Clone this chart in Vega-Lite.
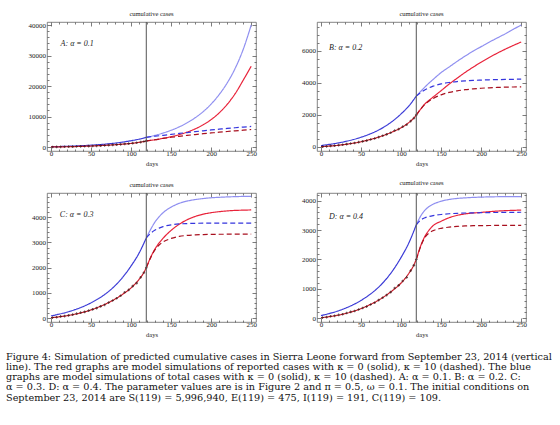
{
"$schema": "https://vega.github.io/schema/vega-lite/v6.json",
"padding": {"left": 6, "top": 10, "right": 0, "bottom": 0},
"config": {
 "view": {"stroke": "#666", "strokeWidth": 0.8},
 "font": "Liberation Serif",
 "axis": {"domain": false, "grid": false, "labelFont": "Liberation Serif", "labelFontSize": 7, "labelColor": "#222", "tickColor": "#444", "tickWidth": 0.7, "titleFont": "Liberation Serif", "titleFontSize": 6.5, "titleFontWeight": "normal", "titleColor": "#222", "labelFlush": false, "labelOverlap": false, "titlePadding": 2},
 "axisX": {"labelPadding": 2},
 "axisY": {"labelPadding": 5.5},
 "title": {"font": "Liberation Serif", "fontSize": 6.5, "fontWeight": "normal", "color": "#222", "offset": 4}
},
"title": {"text": ["Figure 4: Simulation of predicted cumulative cases in Sierra Leone forward from September 23, 2014 (vertical", "line). The red graphs are model simulations of reported cases with κ = 0 (solid), κ = 10 (dashed). The blue", "graphs are model simulations of total cases with κ = 0 (solid), κ = 10 (dashed). A: α = 0.1. B: α = 0.2. C:", "α = 0.3. D: α = 0.4. The parameter values are is in Figure 2 and π = 0.5, ω = 0.1. The initial conditions on", "September 23, 2014 are S(119) = 5,996,940, E(119) = 475, I(119) = 191, C(119) = 109."], "orient": "bottom", "anchor": "start", "frame": "group", "font": "DejaVu Serif", "fontSize": 9.7, "fontWeight": "normal", "lineHeight": 10.2, "offset": 14, "color": "#111", "dx": -41},
"datasets": {
 "obs": [{"day":2,"cases":25},{"day":7,"cases":40},{"day":12,"cases":70},{"day":17,"cases":85},{"day":22,"cases":115},{"day":27,"cases":140},{"day":32,"cases":180},{"day":37,"cases":220},{"day":42,"cases":250},{"day":47,"cases":300},{"day":52,"cases":350},{"day":57,"cases":400},{"day":62,"cases":470},{"day":67,"cases":530},{"day":72,"cases":620},{"day":77,"cases":700},{"day":82,"cases":790},{"day":87,"cases":890},{"day":92,"cases":1030},{"day":97,"cases":1120},{"day":102,"cases":1270},{"day":107,"cases":1390},{"day":112,"cases":1620},{"day":116,"cases":1800},{"day":119,"cases":2000}],
 "labels": [{"panel":"A","day":12,"cases":33800,"label":"A:  α = 0.1"},{"panel":"B","day":10,"cases":6200,"label":"B:  α = 0.2"},{"panel":"C","day":11,"cases":4100,"label":"C:  α = 0.3"},{"panel":"D","day":10,"cases":3430,"label":"D:  α = 0.4"}],
 "curves": [
{"panel":"all","series":"pre_blue","day":0,"cases":90},{"panel":"all","series":"pre_blue","day":10,"cases":160},{"panel":"all","series":"pre_blue","day":20,"cases":240},{"panel":"all","series":"pre_blue","day":30,"cases":340},{"panel":"all","series":"pre_blue","day":40,"cases":460},{"panel":"all","series":"pre_blue","day":50,"cases":610},{"panel":"all","series":"pre_blue","day":60,"cases":790},{"panel":"all","series":"pre_blue","day":70,"cases":1010},{"panel":"all","series":"pre_blue","day":80,"cases":1290},{"panel":"all","series":"pre_blue","day":90,"cases":1640},{"panel":"all","series":"pre_blue","day":100,"cases":2070},{"panel":"all","series":"pre_blue","day":110,"cases":2580},{"panel":"all","series":"pre_blue","day":119,"cases":3180},
{"panel":"all","series":"pre_red","day":0,"cases":20},{"panel":"all","series":"pre_red","day":10,"cases":55},{"panel":"all","series":"pre_red","day":20,"cases":100},{"panel":"all","series":"pre_red","day":30,"cases":160},{"panel":"all","series":"pre_red","day":40,"cases":235},{"panel":"all","series":"pre_red","day":50,"cases":330},{"panel":"all","series":"pre_red","day":60,"cases":450},{"panel":"all","series":"pre_red","day":70,"cases":590},{"panel":"all","series":"pre_red","day":80,"cases":760},{"panel":"all","series":"pre_red","day":90,"cases":960},{"panel":"all","series":"pre_red","day":100,"cases":1200},{"panel":"all","series":"pre_red","day":110,"cases":1540},{"panel":"all","series":"pre_red","day":115,"cases":1760},{"panel":"all","series":"pre_red","day":119,"cases":2000},
{"panel":"A","series":"blue_solid","day":119,"cases":3180},{"panel":"A","series":"blue_solid","day":130,"cases":3850},{"panel":"A","series":"blue_solid","day":140,"cases":4600},{"panel":"A","series":"blue_solid","day":150,"cases":5500},{"panel":"A","series":"blue_solid","day":160,"cases":6600},{"panel":"A","series":"blue_solid","day":170,"cases":7950},{"panel":"A","series":"blue_solid","day":180,"cases":9600},{"panel":"A","series":"blue_solid","day":190,"cases":11600},{"panel":"A","series":"blue_solid","day":200,"cases":14100},{"panel":"A","series":"blue_solid","day":210,"cases":17200},{"panel":"A","series":"blue_solid","day":220,"cases":21000},{"panel":"A","series":"blue_solid","day":230,"cases":25800},{"panel":"A","series":"blue_solid","day":240,"cases":32000},{"panel":"A","series":"blue_solid","day":250,"cases":40000},
{"panel":"A","series":"red_solid","day":119,"cases":2000},{"panel":"A","series":"red_solid","day":130,"cases":2400},{"panel":"A","series":"red_solid","day":140,"cases":2850},{"panel":"A","series":"red_solid","day":150,"cases":3400},{"panel":"A","series":"red_solid","day":160,"cases":4050},{"panel":"A","series":"red_solid","day":170,"cases":4900},{"panel":"A","series":"red_solid","day":180,"cases":5950},{"panel":"A","series":"red_solid","day":190,"cases":7300},{"panel":"A","series":"red_solid","day":200,"cases":9000},{"panel":"A","series":"red_solid","day":210,"cases":11200},{"panel":"A","series":"red_solid","day":220,"cases":14000},{"panel":"A","series":"red_solid","day":230,"cases":17500},{"panel":"A","series":"red_solid","day":240,"cases":21900},{"panel":"A","series":"red_solid","day":250,"cases":26500},
{"panel":"A","series":"blue_dashed","day":119,"cases":3180},{"panel":"A","series":"blue_dashed","day":130,"cases":3550},{"panel":"A","series":"blue_dashed","day":140,"cases":3850},{"panel":"A","series":"blue_dashed","day":150,"cases":4150},{"panel":"A","series":"blue_dashed","day":160,"cases":4450},{"panel":"A","series":"blue_dashed","day":170,"cases":4750},{"panel":"A","series":"blue_dashed","day":180,"cases":5050},{"panel":"A","series":"blue_dashed","day":190,"cases":5330},{"panel":"A","series":"blue_dashed","day":200,"cases":5600},{"panel":"A","series":"blue_dashed","day":210,"cases":5850},{"panel":"A","series":"blue_dashed","day":220,"cases":6100},{"panel":"A","series":"blue_dashed","day":230,"cases":6330},{"panel":"A","series":"blue_dashed","day":240,"cases":6540},{"panel":"A","series":"blue_dashed","day":250,"cases":6750},
{"panel":"A","series":"red_dashed","day":119,"cases":2000},{"panel":"A","series":"red_dashed","day":130,"cases":2400},{"panel":"A","series":"red_dashed","day":140,"cases":2850},{"panel":"A","series":"red_dashed","day":150,"cases":3200},{"panel":"A","series":"red_dashed","day":160,"cases":3520},{"panel":"A","series":"red_dashed","day":170,"cases":3820},{"panel":"A","series":"red_dashed","day":180,"cases":4100},{"panel":"A","series":"red_dashed","day":190,"cases":4370},{"panel":"A","series":"red_dashed","day":200,"cases":4620},{"panel":"A","series":"red_dashed","day":210,"cases":4860},{"panel":"A","series":"red_dashed","day":220,"cases":5090},{"panel":"A","series":"red_dashed","day":230,"cases":5310},{"panel":"A","series":"red_dashed","day":240,"cases":5520},{"panel":"A","series":"red_dashed","day":250,"cases":5750},
{"panel":"B","series":"blue_solid","day":119,"cases":3180},{"panel":"B","series":"blue_solid","day":125,"cases":3500},{"panel":"B","series":"blue_solid","day":130,"cases":3760},{"panel":"B","series":"blue_solid","day":135,"cases":4000},{"panel":"B","series":"blue_solid","day":140,"cases":4220},{"panel":"B","series":"blue_solid","day":150,"cases":4650},{"panel":"B","series":"blue_solid","day":160,"cases":5000},{"panel":"B","series":"blue_solid","day":170,"cases":5350},{"panel":"B","series":"blue_solid","day":180,"cases":5680},{"panel":"B","series":"blue_solid","day":190,"cases":5990},{"panel":"B","series":"blue_solid","day":200,"cases":6270},{"panel":"B","series":"blue_solid","day":210,"cases":6550},{"panel":"B","series":"blue_solid","day":220,"cases":6810},{"panel":"B","series":"blue_solid","day":230,"cases":7070},{"panel":"B","series":"blue_solid","day":240,"cases":7350},{"panel":"B","series":"blue_solid","day":250,"cases":7620},
{"panel":"B","series":"red_solid","day":119,"cases":2000},{"panel":"B","series":"red_solid","day":125,"cases":2400},{"panel":"B","series":"red_solid","day":130,"cases":2700},{"panel":"B","series":"red_solid","day":135,"cases":2920},{"panel":"B","series":"red_solid","day":140,"cases":3120},{"panel":"B","series":"red_solid","day":150,"cases":3520},{"panel":"B","series":"red_solid","day":160,"cases":3930},{"panel":"B","series":"red_solid","day":170,"cases":4300},{"panel":"B","series":"red_solid","day":180,"cases":4660},{"panel":"B","series":"red_solid","day":190,"cases":4990},{"panel":"B","series":"red_solid","day":200,"cases":5300},{"panel":"B","series":"red_solid","day":210,"cases":5590},{"panel":"B","series":"red_solid","day":220,"cases":5860},{"panel":"B","series":"red_solid","day":230,"cases":6110},{"panel":"B","series":"red_solid","day":240,"cases":6340},{"panel":"B","series":"red_solid","day":250,"cases":6560},
{"panel":"B","series":"blue_dashed","day":119,"cases":3180},{"panel":"B","series":"blue_dashed","day":125,"cases":3420},{"panel":"B","series":"blue_dashed","day":130,"cases":3580},{"panel":"B","series":"blue_dashed","day":135,"cases":3700},{"panel":"B","series":"blue_dashed","day":140,"cases":3800},{"panel":"B","series":"blue_dashed","day":150,"cases":3940},{"panel":"B","series":"blue_dashed","day":160,"cases":4030},{"panel":"B","series":"blue_dashed","day":170,"cases":4090},{"panel":"B","series":"blue_dashed","day":180,"cases":4130},{"panel":"B","series":"blue_dashed","day":190,"cases":4160},{"panel":"B","series":"blue_dashed","day":200,"cases":4180},{"panel":"B","series":"blue_dashed","day":210,"cases":4200},{"panel":"B","series":"blue_dashed","day":220,"cases":4210},{"panel":"B","series":"blue_dashed","day":230,"cases":4220},{"panel":"B","series":"blue_dashed","day":240,"cases":4230},{"panel":"B","series":"blue_dashed","day":250,"cases":4240},
{"panel":"B","series":"red_dashed","day":119,"cases":2000},{"panel":"B","series":"red_dashed","day":125,"cases":2400},{"panel":"B","series":"red_dashed","day":130,"cases":2680},{"panel":"B","series":"red_dashed","day":135,"cases":2880},{"panel":"B","series":"red_dashed","day":140,"cases":3030},{"panel":"B","series":"red_dashed","day":150,"cases":3260},{"panel":"B","series":"red_dashed","day":160,"cases":3410},{"panel":"B","series":"red_dashed","day":170,"cases":3510},{"panel":"B","series":"red_dashed","day":180,"cases":3580},{"panel":"B","series":"red_dashed","day":190,"cases":3630},{"panel":"B","series":"red_dashed","day":200,"cases":3670},{"panel":"B","series":"red_dashed","day":210,"cases":3700},{"panel":"B","series":"red_dashed","day":220,"cases":3720},{"panel":"B","series":"red_dashed","day":230,"cases":3740},{"panel":"B","series":"red_dashed","day":240,"cases":3750},{"panel":"B","series":"red_dashed","day":250,"cases":3760},
{"panel":"C","series":"blue_solid","day":119,"cases":3180},{"panel":"C","series":"blue_solid","day":125,"cases":3550},{"panel":"C","series":"blue_solid","day":130,"cases":3820},{"panel":"C","series":"blue_solid","day":135,"cases":4020},{"panel":"C","series":"blue_solid","day":140,"cases":4180},{"panel":"C","series":"blue_solid","day":150,"cases":4400},{"panel":"C","series":"blue_solid","day":160,"cases":4550},{"panel":"C","series":"blue_solid","day":170,"cases":4640},{"panel":"C","series":"blue_solid","day":180,"cases":4700},{"panel":"C","series":"blue_solid","day":190,"cases":4740},{"panel":"C","series":"blue_solid","day":200,"cases":4770},{"panel":"C","series":"blue_solid","day":210,"cases":4790},{"panel":"C","series":"blue_solid","day":220,"cases":4805},{"panel":"C","series":"blue_solid","day":230,"cases":4815},{"panel":"C","series":"blue_solid","day":240,"cases":4825},{"panel":"C","series":"blue_solid","day":250,"cases":4830},
{"panel":"C","series":"red_solid","day":119,"cases":2000},{"panel":"C","series":"red_solid","day":125,"cases":2450},{"panel":"C","series":"red_solid","day":130,"cases":2750},{"panel":"C","series":"red_solid","day":135,"cases":2980},{"panel":"C","series":"red_solid","day":140,"cases":3170},{"panel":"C","series":"red_solid","day":150,"cases":3480},{"panel":"C","series":"red_solid","day":160,"cases":3720},{"panel":"C","series":"red_solid","day":170,"cases":3900},{"panel":"C","series":"red_solid","day":180,"cases":4030},{"panel":"C","series":"red_solid","day":190,"cases":4120},{"panel":"C","series":"red_solid","day":200,"cases":4180},{"panel":"C","series":"red_solid","day":210,"cases":4220},{"panel":"C","series":"red_solid","day":220,"cases":4250},{"panel":"C","series":"red_solid","day":230,"cases":4270},{"panel":"C","series":"red_solid","day":240,"cases":4280},{"panel":"C","series":"red_solid","day":250,"cases":4290},
{"panel":"C","series":"blue_dashed","day":119,"cases":3180},{"panel":"C","series":"blue_dashed","day":125,"cases":3380},{"panel":"C","series":"blue_dashed","day":130,"cases":3490},{"panel":"C","series":"blue_dashed","day":135,"cases":3570},{"panel":"C","series":"blue_dashed","day":140,"cases":3630},{"panel":"C","series":"blue_dashed","day":150,"cases":3700},{"panel":"C","series":"blue_dashed","day":160,"cases":3735},{"panel":"C","series":"blue_dashed","day":170,"cases":3750},{"panel":"C","series":"blue_dashed","day":180,"cases":3760},{"panel":"C","series":"blue_dashed","day":190,"cases":3765},{"panel":"C","series":"blue_dashed","day":200,"cases":3768},{"panel":"C","series":"blue_dashed","day":210,"cases":3770},{"panel":"C","series":"blue_dashed","day":220,"cases":3770},{"panel":"C","series":"blue_dashed","day":230,"cases":3770},{"panel":"C","series":"blue_dashed","day":240,"cases":3770},{"panel":"C","series":"blue_dashed","day":250,"cases":3770},
{"panel":"C","series":"red_dashed","day":119,"cases":2000},{"panel":"C","series":"red_dashed","day":125,"cases":2440},{"panel":"C","series":"red_dashed","day":130,"cases":2720},{"panel":"C","series":"red_dashed","day":135,"cases":2900},{"panel":"C","series":"red_dashed","day":140,"cases":3020},{"panel":"C","series":"red_dashed","day":150,"cases":3160},{"panel":"C","series":"red_dashed","day":160,"cases":3240},{"panel":"C","series":"red_dashed","day":170,"cases":3280},{"panel":"C","series":"red_dashed","day":180,"cases":3300},{"panel":"C","series":"red_dashed","day":190,"cases":3315},{"panel":"C","series":"red_dashed","day":200,"cases":3320},{"panel":"C","series":"red_dashed","day":210,"cases":3325},{"panel":"C","series":"red_dashed","day":220,"cases":3328},{"panel":"C","series":"red_dashed","day":230,"cases":3330},{"panel":"C","series":"red_dashed","day":240,"cases":3330},{"panel":"C","series":"red_dashed","day":250,"cases":3330},
{"panel":"D","series":"blue_solid","day":119,"cases":3180},{"panel":"D","series":"blue_solid","day":125,"cases":3500},{"panel":"D","series":"blue_solid","day":130,"cases":3680},{"panel":"D","series":"blue_solid","day":135,"cases":3800},{"panel":"D","series":"blue_solid","day":140,"cases":3880},{"panel":"D","series":"blue_solid","day":150,"cases":3980},{"panel":"D","series":"blue_solid","day":160,"cases":4040},{"panel":"D","series":"blue_solid","day":170,"cases":4075},{"panel":"D","series":"blue_solid","day":180,"cases":4095},{"panel":"D","series":"blue_solid","day":190,"cases":4110},{"panel":"D","series":"blue_solid","day":200,"cases":4120},{"panel":"D","series":"blue_solid","day":210,"cases":4128},{"panel":"D","series":"blue_solid","day":220,"cases":4133},{"panel":"D","series":"blue_solid","day":230,"cases":4137},{"panel":"D","series":"blue_solid","day":240,"cases":4139},{"panel":"D","series":"blue_solid","day":250,"cases":4140},
{"panel":"D","series":"red_solid","day":119,"cases":2000},{"panel":"D","series":"red_solid","day":125,"cases":2500},{"panel":"D","series":"red_solid","day":130,"cases":2800},{"panel":"D","series":"red_solid","day":135,"cases":3000},{"panel":"D","series":"red_solid","day":140,"cases":3150},{"panel":"D","series":"red_solid","day":150,"cases":3300},{"panel":"D","series":"red_solid","day":160,"cases":3420},{"panel":"D","series":"red_solid","day":170,"cases":3500},{"panel":"D","series":"red_solid","day":180,"cases":3550},{"panel":"D","series":"red_solid","day":190,"cases":3580},{"panel":"D","series":"red_solid","day":200,"cases":3600},{"panel":"D","series":"red_solid","day":210,"cases":3625},{"panel":"D","series":"red_solid","day":220,"cases":3645},{"panel":"D","series":"red_solid","day":230,"cases":3660},{"panel":"D","series":"red_solid","day":240,"cases":3670},{"panel":"D","series":"red_solid","day":250,"cases":3680},
{"panel":"D","series":"blue_dashed","day":119,"cases":3180},{"panel":"D","series":"blue_dashed","day":125,"cases":3350},{"panel":"D","series":"blue_dashed","day":130,"cases":3420},{"panel":"D","series":"blue_dashed","day":135,"cases":3460},{"panel":"D","series":"blue_dashed","day":140,"cases":3490},{"panel":"D","series":"blue_dashed","day":150,"cases":3530},{"panel":"D","series":"blue_dashed","day":160,"cases":3555},{"panel":"D","series":"blue_dashed","day":170,"cases":3570},{"panel":"D","series":"blue_dashed","day":180,"cases":3580},{"panel":"D","series":"blue_dashed","day":190,"cases":3585},{"panel":"D","series":"blue_dashed","day":200,"cases":3590},{"panel":"D","series":"blue_dashed","day":210,"cases":3595},{"panel":"D","series":"blue_dashed","day":220,"cases":3598},{"panel":"D","series":"blue_dashed","day":230,"cases":3600},{"panel":"D","series":"blue_dashed","day":240,"cases":3603},{"panel":"D","series":"blue_dashed","day":250,"cases":3605},
{"panel":"D","series":"red_dashed","day":119,"cases":2000},{"panel":"D","series":"red_dashed","day":125,"cases":2480},{"panel":"D","series":"red_dashed","day":130,"cases":2760},{"panel":"D","series":"red_dashed","day":135,"cases":2900},{"panel":"D","series":"red_dashed","day":140,"cases":2980},{"panel":"D","series":"red_dashed","day":150,"cases":3060},{"panel":"D","series":"red_dashed","day":160,"cases":3100},{"panel":"D","series":"red_dashed","day":170,"cases":3125},{"panel":"D","series":"red_dashed","day":180,"cases":3140},{"panel":"D","series":"red_dashed","day":190,"cases":3148},{"panel":"D","series":"red_dashed","day":200,"cases":3152},{"panel":"D","series":"red_dashed","day":210,"cases":3155},{"panel":"D","series":"red_dashed","day":220,"cases":3157},{"panel":"D","series":"red_dashed","day":230,"cases":3158},{"panel":"D","series":"red_dashed","day":240,"cases":3159},{"panel":"D","series":"red_dashed","day":250,"cases":3160}
 ]
},
"columns": 2,
"spacing": {"row": 12, "column": 44},
"concat": [
 {"width": 209, "height": 129, "title": "cumulative cases",
  "resolve": {"axis": {"x": "independent", "y": "independent"}},
  "layer": [
   {"data": {"name": "curves"}, "transform": [{"filter": "datum.panel === 'A' || datum.panel === 'all'"}],
    "mark": {"type": "line", "interpolate": "monotone", "strokeWidth": 1.2},
    "encoding": {
     "x": {"field": "day", "type": "quantitative", "scale": {"domain": [-5, 256], "nice": false, "zero": false}, "axis": {"orient": "bottom", "title": "days", "values": [0,10,20,30,40,50,60,70,80,90,100,110,120,130,140,150,160,170,180,190,200,210,220,230,240,250], "labelExpr": "datum.value % 50 === 0 ? datum.label : ''", "tickSize": {"condition": {"test": "datum.value % 50 === 0", "value": -4}, "value": -2}}},
     "y": {"field": "cases", "type": "quantitative", "scale": {"domain": [-1300, 41000], "nice": false, "zero": false}, "axis": {"orient": "left", "title": null, "format": "d", "values": [0,2000,4000,6000,8000,10000,12000,14000,16000,18000,20000,22000,24000,26000,28000,30000,32000,34000,36000,38000,40000], "labelExpr": "datum.value % 10000 === 0 ? datum.label : ''", "tickSize": {"condition": {"test": "datum.value % 10000 === 0", "value": -4}, "value": -2}}},
     "color": {"field": "series", "type": "nominal", "scale": {"domain": ["pre_blue","pre_red","blue_solid","red_solid","blue_dashed","red_dashed"], "range": ["#3b3bd6","#cc1f2e","#8f8ff0","#e8233a","#3535dd","#a8101f"]}, "legend": null},
     "strokeDash": {"field": "series", "type": "nominal", "scale": {"domain": ["pre_blue","pre_red","blue_solid","red_solid","blue_dashed","red_dashed"], "range": [[1,0],[1,0],[1,0],[1,0],[5,3],[5,3]]}, "legend": null}
    }},
   {"data": {"name": "obs"}, "mark": {"type": "point", "shape": "cross", "filled": true, "size": 7, "color": "#301010"},
    "encoding": {
     "x": {"field": "day", "type": "quantitative", "axis": {"orient": "top", "labels": false, "title": null, "values": [0,10,20,30,40,50,60,70,80,90,100,110,120,130,140,150,160,170,180,190,200,210,220,230,240,250], "tickSize": {"condition": {"test": "datum.value % 50 === 0", "value": -4}, "value": -2}}},
     "y": {"field": "cases", "type": "quantitative", "axis": {"orient": "right", "labels": false, "title": null, "values": [0,2000,4000,6000,8000,10000,12000,14000,16000,18000,20000,22000,24000,26000,28000,30000,32000,34000,36000,38000,40000], "tickSize": {"condition": {"test": "datum.value % 10000 === 0", "value": -4}, "value": -2}}}
    }},
   {"data": {"values": [{"day": 119}]}, "mark": {"type": "rule", "color": "#555", "strokeWidth": 1}, "encoding": {"x": {"field": "day", "type": "quantitative", "axis": null}}},
   {"data": {"name": "labels"}, "transform": [{"filter": "datum.panel === 'A'"}], "mark": {"type": "text", "align": "left", "baseline": "middle", "font": "Liberation Serif", "fontStyle": "italic", "fontSize": 8, "color": "#222"},
    "encoding": {"x": {"field": "day", "type": "quantitative", "axis": null}, "y": {"field": "cases", "type": "quantitative", "axis": null}, "text": {"field": "label"}}}
  ]},
 {"width": 209, "height": 129, "title": "cumulative cases",
  "resolve": {"axis": {"x": "independent", "y": "independent"}},
  "layer": [
   {"data": {"name": "curves"}, "transform": [{"filter": "datum.panel === 'B' || datum.panel === 'all'"}],
    "mark": {"type": "line", "interpolate": "monotone", "strokeWidth": 1.2},
    "encoding": {
     "x": {"field": "day", "type": "quantitative", "scale": {"domain": [-5, 256], "nice": false, "zero": false}, "axis": {"orient": "bottom", "title": "days", "values": [0,10,20,30,40,50,60,70,80,90,100,110,120,130,140,150,160,170,180,190,200,210,220,230,240,250], "labelExpr": "datum.value % 50 === 0 ? datum.label : ''", "tickSize": {"condition": {"test": "datum.value % 50 === 0", "value": -4}, "value": -2}}},
     "y": {"field": "cases", "type": "quantitative", "scale": {"domain": [-250, 7810], "nice": false, "zero": false}, "axis": {"orient": "left", "title": null, "format": "d", "values": [0,500,1000,1500,2000,2500,3000,3500,4000,4500,5000,5500,6000,6500,7000,7500], "labelExpr": "datum.value % 2000 === 0 ? datum.label : ''", "tickSize": {"condition": {"test": "datum.value % 2000 === 0", "value": -4}, "value": -2}}},
     "color": {"field": "series", "type": "nominal", "scale": {"domain": ["pre_blue","pre_red","blue_solid","red_solid","blue_dashed","red_dashed"], "range": ["#3b3bd6","#cc1f2e","#8f8ff0","#e8233a","#3535dd","#a8101f"]}, "legend": null},
     "strokeDash": {"field": "series", "type": "nominal", "scale": {"domain": ["pre_blue","pre_red","blue_solid","red_solid","blue_dashed","red_dashed"], "range": [[1,0],[1,0],[1,0],[1,0],[5,3],[5,3]]}, "legend": null}
    }},
   {"data": {"name": "obs"}, "mark": {"type": "point", "shape": "cross", "filled": true, "size": 7, "color": "#301010"},
    "encoding": {
     "x": {"field": "day", "type": "quantitative", "axis": {"orient": "top", "labels": false, "title": null, "values": [0,10,20,30,40,50,60,70,80,90,100,110,120,130,140,150,160,170,180,190,200,210,220,230,240,250], "tickSize": {"condition": {"test": "datum.value % 50 === 0", "value": -4}, "value": -2}}},
     "y": {"field": "cases", "type": "quantitative", "axis": {"orient": "right", "labels": false, "title": null, "values": [0,500,1000,1500,2000,2500,3000,3500,4000,4500,5000,5500,6000,6500,7000,7500], "tickSize": {"condition": {"test": "datum.value % 2000 === 0", "value": -4}, "value": -2}}}
    }},
   {"data": {"values": [{"day": 119}]}, "mark": {"type": "rule", "color": "#555", "strokeWidth": 1}, "encoding": {"x": {"field": "day", "type": "quantitative", "axis": null}}},
   {"data": {"name": "labels"}, "transform": [{"filter": "datum.panel === 'B'"}], "mark": {"type": "text", "align": "left", "baseline": "middle", "font": "Liberation Serif", "fontStyle": "italic", "fontSize": 8, "color": "#222"},
    "encoding": {"x": {"field": "day", "type": "quantitative", "axis": null}, "y": {"field": "cases", "type": "quantitative", "axis": null}, "text": {"field": "label"}}}
  ]},
 {"width": 209, "height": 129, "title": "cumulative cases",
  "resolve": {"axis": {"x": "independent", "y": "independent"}},
  "layer": [
   {"data": {"name": "curves"}, "transform": [{"filter": "datum.panel === 'C' || datum.panel === 'all'"}],
    "mark": {"type": "line", "interpolate": "monotone", "strokeWidth": 1.2},
    "encoding": {
     "x": {"field": "day", "type": "quantitative", "scale": {"domain": [-5, 256], "nice": false, "zero": false}, "axis": {"orient": "bottom", "title": "days", "values": [0,10,20,30,40,50,60,70,80,90,100,110,120,130,140,150,160,170,180,190,200,210,220,230,240,250], "labelExpr": "datum.value % 50 === 0 ? datum.label : ''", "tickSize": {"condition": {"test": "datum.value % 50 === 0", "value": -4}, "value": -2}}},
     "y": {"field": "cases", "type": "quantitative", "scale": {"domain": [-150, 4960], "nice": false, "zero": false}, "axis": {"orient": "left", "title": null, "format": "d", "values": [0,200,400,600,800,1000,1200,1400,1600,1800,2000,2200,2400,2600,2800,3000,3200,3400,3600,3800,4000,4200,4400,4600,4800], "labelExpr": "datum.value % 1000 === 0 ? datum.label : ''", "tickSize": {"condition": {"test": "datum.value % 1000 === 0", "value": -4}, "value": -2}}},
     "color": {"field": "series", "type": "nominal", "scale": {"domain": ["pre_blue","pre_red","blue_solid","red_solid","blue_dashed","red_dashed"], "range": ["#3b3bd6","#cc1f2e","#8f8ff0","#e8233a","#3535dd","#a8101f"]}, "legend": null},
     "strokeDash": {"field": "series", "type": "nominal", "scale": {"domain": ["pre_blue","pre_red","blue_solid","red_solid","blue_dashed","red_dashed"], "range": [[1,0],[1,0],[1,0],[1,0],[5,3],[5,3]]}, "legend": null}
    }},
   {"data": {"name": "obs"}, "mark": {"type": "point", "shape": "cross", "filled": true, "size": 7, "color": "#301010"},
    "encoding": {
     "x": {"field": "day", "type": "quantitative", "axis": {"orient": "top", "labels": false, "title": null, "values": [0,10,20,30,40,50,60,70,80,90,100,110,120,130,140,150,160,170,180,190,200,210,220,230,240,250], "tickSize": {"condition": {"test": "datum.value % 50 === 0", "value": -4}, "value": -2}}},
     "y": {"field": "cases", "type": "quantitative", "axis": {"orient": "right", "labels": false, "title": null, "values": [0,200,400,600,800,1000,1200,1400,1600,1800,2000,2200,2400,2600,2800,3000,3200,3400,3600,3800,4000,4200,4400,4600,4800], "tickSize": {"condition": {"test": "datum.value % 1000 === 0", "value": -4}, "value": -2}}}
    }},
   {"data": {"values": [{"day": 119}]}, "mark": {"type": "rule", "color": "#555", "strokeWidth": 1}, "encoding": {"x": {"field": "day", "type": "quantitative", "axis": null}}},
   {"data": {"name": "labels"}, "transform": [{"filter": "datum.panel === 'C'"}], "mark": {"type": "text", "align": "left", "baseline": "middle", "font": "Liberation Serif", "fontStyle": "italic", "fontSize": 8, "color": "#222"},
    "encoding": {"x": {"field": "day", "type": "quantitative", "axis": null}, "y": {"field": "cases", "type": "quantitative", "axis": null}, "text": {"field": "label"}}}
  ]},
 {"width": 209, "height": 129, "title": "cumulative cases",
  "resolve": {"axis": {"x": "independent", "y": "independent"}},
  "layer": [
   {"data": {"name": "curves"}, "transform": [{"filter": "datum.panel === 'D' || datum.panel === 'all'"}],
    "mark": {"type": "line", "interpolate": "monotone", "strokeWidth": 1.2},
    "encoding": {
     "x": {"field": "day", "type": "quantitative", "scale": {"domain": [-5, 256], "nice": false, "zero": false}, "axis": {"orient": "bottom", "title": "days", "values": [0,10,20,30,40,50,60,70,80,90,100,110,120,130,140,150,160,170,180,190,200,210,220,230,240,250], "labelExpr": "datum.value % 50 === 0 ? datum.label : ''", "tickSize": {"condition": {"test": "datum.value % 50 === 0", "value": -4}, "value": -2}}},
     "y": {"field": "cases", "type": "quantitative", "scale": {"domain": [-125, 4260], "nice": false, "zero": false}, "axis": {"orient": "left", "title": null, "format": "d", "values": [0,200,400,600,800,1000,1200,1400,1600,1800,2000,2200,2400,2600,2800,3000,3200,3400,3600,3800,4000,4200], "labelExpr": "datum.value % 1000 === 0 ? datum.label : ''", "tickSize": {"condition": {"test": "datum.value % 1000 === 0", "value": -4}, "value": -2}}},
     "color": {"field": "series", "type": "nominal", "scale": {"domain": ["pre_blue","pre_red","blue_solid","red_solid","blue_dashed","red_dashed"], "range": ["#3b3bd6","#cc1f2e","#8f8ff0","#e8233a","#3535dd","#a8101f"]}, "legend": null},
     "strokeDash": {"field": "series", "type": "nominal", "scale": {"domain": ["pre_blue","pre_red","blue_solid","red_solid","blue_dashed","red_dashed"], "range": [[1,0],[1,0],[1,0],[1,0],[5,3],[5,3]]}, "legend": null}
    }},
   {"data": {"name": "obs"}, "mark": {"type": "point", "shape": "cross", "filled": true, "size": 7, "color": "#301010"},
    "encoding": {
     "x": {"field": "day", "type": "quantitative", "axis": {"orient": "top", "labels": false, "title": null, "values": [0,10,20,30,40,50,60,70,80,90,100,110,120,130,140,150,160,170,180,190,200,210,220,230,240,250], "tickSize": {"condition": {"test": "datum.value % 50 === 0", "value": -4}, "value": -2}}},
     "y": {"field": "cases", "type": "quantitative", "axis": {"orient": "right", "labels": false, "title": null, "values": [0,200,400,600,800,1000,1200,1400,1600,1800,2000,2200,2400,2600,2800,3000,3200,3400,3600,3800,4000,4200], "tickSize": {"condition": {"test": "datum.value % 1000 === 0", "value": -4}, "value": -2}}}
    }},
   {"data": {"values": [{"day": 119}]}, "mark": {"type": "rule", "color": "#555", "strokeWidth": 1}, "encoding": {"x": {"field": "day", "type": "quantitative", "axis": null}}},
   {"data": {"name": "labels"}, "transform": [{"filter": "datum.panel === 'D'"}], "mark": {"type": "text", "align": "left", "baseline": "middle", "font": "Liberation Serif", "fontStyle": "italic", "fontSize": 8, "color": "#222"},
    "encoding": {"x": {"field": "day", "type": "quantitative", "axis": null}, "y": {"field": "cases", "type": "quantitative", "axis": null}, "text": {"field": "label"}}}
  ]}
]
}
